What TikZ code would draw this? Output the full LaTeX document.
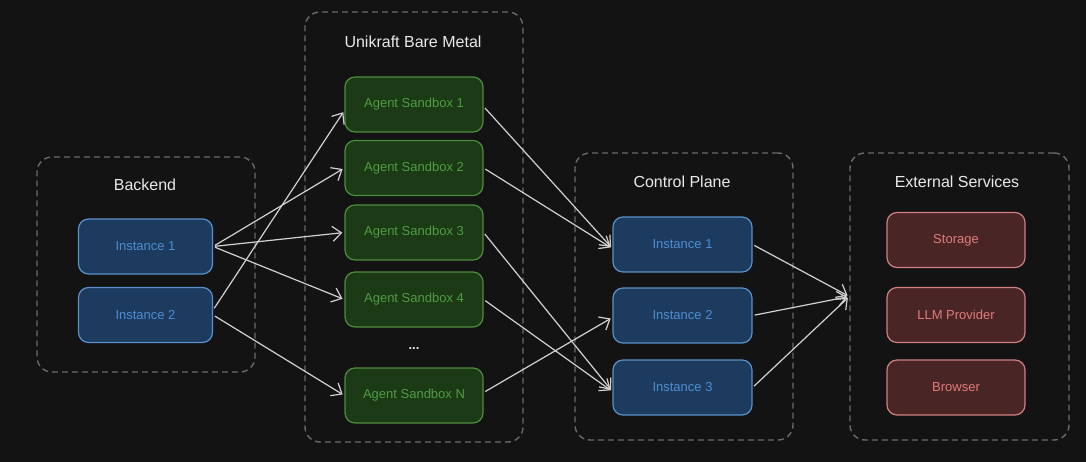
\documentclass[tikz,border=0pt]{standalone}
\usepackage{fontspec}
\setmainfont{Liberation Sans}
\usetikzlibrary{arrows.meta}
\definecolor{bg}{HTML}{131313}
\definecolor{grp}{HTML}{6A6A6A}
\definecolor{ttl}{HTML}{EAEAEA}
\definecolor{bfill}{HTML}{1C3B5E}
\definecolor{bdraw}{HTML}{5A90CC}
\definecolor{btext}{HTML}{4F8DD3}
\definecolor{gfill}{HTML}{1B3A15}
\definecolor{gdraw}{HTML}{4E8C40}
\definecolor{gtext}{HTML}{4F9C43}
\definecolor{rfill}{HTML}{4A2525}
\definecolor{rdraw}{HTML}{D08080}
\definecolor{rtext}{HTML}{E07C7C}
\definecolor{arr}{HTML}{D2D2D2}
\tikzset{
  group/.style={draw=grp, line width=1.4pt, dash pattern=on 6pt off 4pt, rounded corners=15pt, inner sep=0pt},
  title/.style={text=ttl, font=\fontsize{16}{18}\selectfont, inner sep=0pt},
  box/.style={rounded corners=10pt, line width=1.2pt, minimum height=55pt, inner sep=0pt, font=\fontsize{13}{15}\selectfont},
  bluebox/.style={box, fill=bfill, draw=bdraw, text=btext, minimum width=134pt},
  greenbox/.style={box, fill=gfill, draw=gdraw, text=gtext, minimum width=138pt},
  redbox/.style={box, fill=rfill, draw=rdraw, text=rtext, minimum width=138pt},
  link/.style={draw=arr, line width=1.2pt, -{Straight Barb[length=9pt,width=15pt,line width=1.2pt]}, shorten >=2pt, shorten <=2pt}
}
\begin{document}
\begin{tikzpicture}[x=1pt,y=-1pt]
\fill[bg] (0,0) rectangle (1086,462);
\useasboundingbox (0,0) rectangle (1086,462);
% groups
\node[group, minimum width=218pt, minimum height=215pt] (gB) at (146,264.5) {};
\node[group, minimum width=218pt, minimum height=430pt] (gU) at (414,227) {};
\node[group, minimum width=218pt, minimum height=287pt] (gC) at (684,296.5) {};
\node[group, minimum width=219pt, minimum height=287pt] (gE) at (959.5,296.5) {};
% titles
\node[title] (tB) at (145,185) {Backend};
\node[title] (tU) at (413,42) {Unikraft Bare Metal};
\node[title] (tC) at (682,182) {Control Plane};
\node[title] (tE) at (957,182) {External Services};
% backend
\node[bluebox] (b1) at (145.5,246.5) {Instance 1};
\node[bluebox] (b2) at (145.5,315) {Instance 2};
% sandboxes
\node[greenbox] (s1) at (414,104.5) {Agent Sandbox 1};
\node[greenbox] (s2) at (414,168) {Agent Sandbox 2};
\node[greenbox] (s3) at (414,232.5) {Agent Sandbox 3};
\node[greenbox] (s4) at (414,299.5) {Agent Sandbox 4};
\node[text=ttl, font=\fontsize{13}{15}\selectfont\bfseries, inner sep=0pt] (dots) at (414,349) {...};
\node[greenbox] (sn) at (414,395.5) {Agent Sandbox N};
% control plane
\node[bluebox, minimum width=139pt] (c1) at (682.5,244.5) {Instance 1};
\node[bluebox, minimum width=139pt] (c2) at (682.5,315.5) {Instance 2};
\node[bluebox, minimum width=139pt] (c3) at (682.5,387.5) {Instance 3};
% external
\node[redbox] (e1) at (956,240) {Storage};
\node[redbox] (e2) at (956,315) {LLM Provider};
\node[redbox] (e3) at (956,387.5) {Browser};
% links
\draw[link] (b1.east) -- (s2.west);
\draw[link] (b1.east) -- (s3.west);
\draw[link] (b1.east) -- (s4.west);
\draw[link] ([yshift=5pt]b2.east) -- ([yshift=-6pt]s1.west);
\draw[link] (b2.east) -- (sn.west);
\draw[link] ([yshift=-2pt]s1.east) -- ([yshift=-4pt]c1.west);
\draw[link] (s2.east) -- ([yshift=-4pt]c1.west);
\draw[link] (s3.east) -- ([yshift=-4pt]c3.west);
\draw[link] (s4.east) -- ([yshift=-4pt]c3.west);
\draw[link] ([yshift=3pt]sn.east) -- ([yshift=-2pt]c2.west);
\draw[link] (c1.east) -- (gE.west);
\draw[link] (c2.east) -- (gE.west);
\draw[link] (c3.east) -- (gE.west);
\end{tikzpicture}
\end{document}
